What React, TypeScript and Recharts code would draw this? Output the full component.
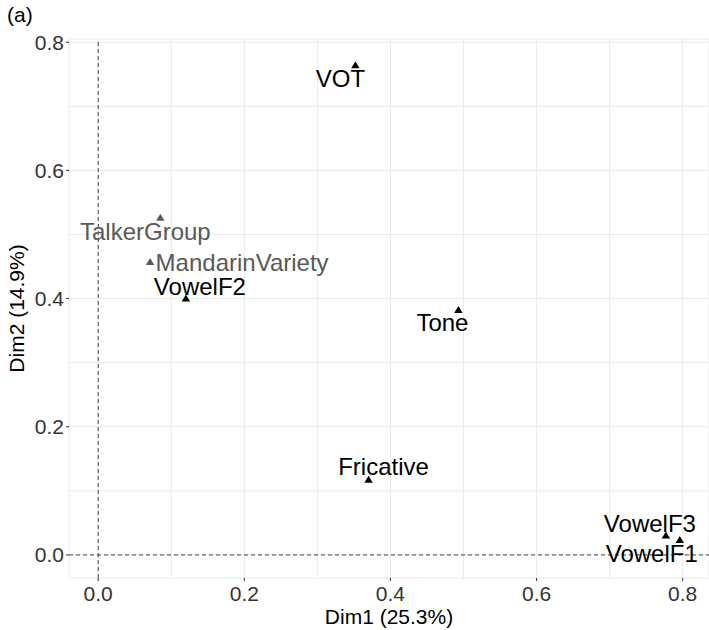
import { ScatterChart, Scatter, XAxis, YAxis, CartesianGrid, ReferenceLine, Label } from 'recharts';

const variableNames = ['VOT', 'TalkerGroup', 'MandarinVariety', 'VowelF2', 'Tone', 'Fricative', 'VowelF3', 'VowelF1'];
const dim1 = [0.352, 0.085, 0.071, 0.12, 0.493, 0.37, 0.777, 0.796];
const dim2 = [0.765, 0.527, 0.458, 0.401, 0.383, 0.118, 0.031, 0.024];
const supplementary = [false, true, true, false, false, false, false, false];

const xTicks = [0, 0.1, 0.2, 0.3, 0.4, 0.5, 0.6, 0.7, 0.8];
const yTicks = [0, 0.1, 0.2, 0.3, 0.4, 0.5, 0.6, 0.7, 0.8];
const majorTicks = [0, 0.2, 0.4, 0.6, 0.8];

const points = variableNames.map((name, i) => ({
  name,
  x: dim1[i],
  y: dim2[i],
  sup: supplementary[i],
}));

// label placement relative to the triangle (text centre x, baseline y)
const labelOffsets: Record<string, [number, number]> = {
  VOT: [-15, 22],
  TalkerGroup: [-15, 23],
  MandarinVariety: [92, 10],
  VowelF2: [14, -3],
  Tone: [-16, 22],
  Fricative: [15, -4],
  VowelF3: [-16, -3],
  VowelF1: [-28, 22],
};

const FONT = '"Liberation Sans", Arial, sans-serif';
const isMajor = (v: number) => majorTicks.some((m) => Math.abs(m - v) < 1e-9);

function XTick({ x, y, payload }: any) {
  if (!isMajor(payload.value)) return null;
  return (
    <g>
      <line x1={x} x2={x} y1={y} y2={y + 3} stroke='#333' />
      <text x={x} y={y + 23} textAnchor='middle' fontSize={21} fill='#333' fontFamily={FONT}>
        {payload.value.toFixed(1)}
      </text>
    </g>
  );
}

function YTick({ x, y, payload }: any) {
  if (!isMajor(payload.value)) return null;
  return (
    <g>
      <line x1={x - 3} x2={x} y1={y} y2={y} stroke='#333' />
      <text x={x - 5} y={y + 7.5} textAnchor='end' fontSize={21} fill='#333' fontFamily={FONT}>
        {payload.value.toFixed(1)}
      </text>
    </g>
  );
}

function Triangle({ cx, cy, payload }: any) {
  const color = payload.sup ? '#595959' : '#000';
  const [dx, dy] = labelOffsets[payload.name] || [0, 0];
  return (
    <g>
      <polygon points={`${cx - 4.2},${cy + 3.5} ${cx + 4.2},${cy + 3.5} ${cx},${cy - 3.5}`} fill={color} />
      <text x={cx + dx} y={cy + dy} textAnchor='middle' fontSize={24} fill={color} fontFamily={FONT}>
        {payload.name}
      </text>
    </g>
  );
}

export default function App() {
  return (
    <div style={{ position: 'absolute', left: 0, top: 0, width: 709, height: 630, background: '#fff' }}>
      <div
        style={{
          position: 'absolute',
          left: 7,
          top: 4,
          fontFamily: FONT,
          fontSize: 21,
          lineHeight: '21px',
          color: '#000',
        }}
      >
        (a)
      </div>
      <ScatterChart width={709} height={630} margin={{ top: 39, right: 0, bottom: 0, left: 0 }}>
        <CartesianGrid stroke='#ebebeb' strokeWidth={1} />
        <XAxis
          type='number'
          dataKey='x'
          domain={[-0.04, 0.836]}
          ticks={xTicks}
          allowDataOverflow
          height={52}
          axisLine={false}
          tickLine={false}
          tickSize={0}
          tickMargin={0}
          tick={<XTick />}
          interval={0}
        >
          <Label
            value='Dim1 (25.3%)'
            position='insideBottom'
            offset={6}
            style={{ fontSize: 21, fill: '#000', fontFamily: FONT }}
          />
        </XAxis>
        <YAxis
          type='number'
          dataKey='y'
          domain={[-0.036, 0.805]}
          ticks={yTicks}
          allowDataOverflow
          width={69}
          axisLine={false}
          tickLine={false}
          tickSize={0}
          tickMargin={0}
          tick={<YTick />}
          interval={0}
        >
          <Label
            value='Dim2 (14.9%)'
            angle={-90}
            position='insideLeft'
            offset={17}
            style={{ fontSize: 21, fill: '#000', fontFamily: FONT, textAnchor: 'middle' }}
          />
        </YAxis>
        <ReferenceLine x={0} stroke='#444' strokeDasharray='4 3' />
        <ReferenceLine y={0} stroke='#444' strokeDasharray='4 3' />
        <Scatter data={points} shape={<Triangle />} isAnimationActive={false} />
      </ScatterChart>
    </div>
  );
}
